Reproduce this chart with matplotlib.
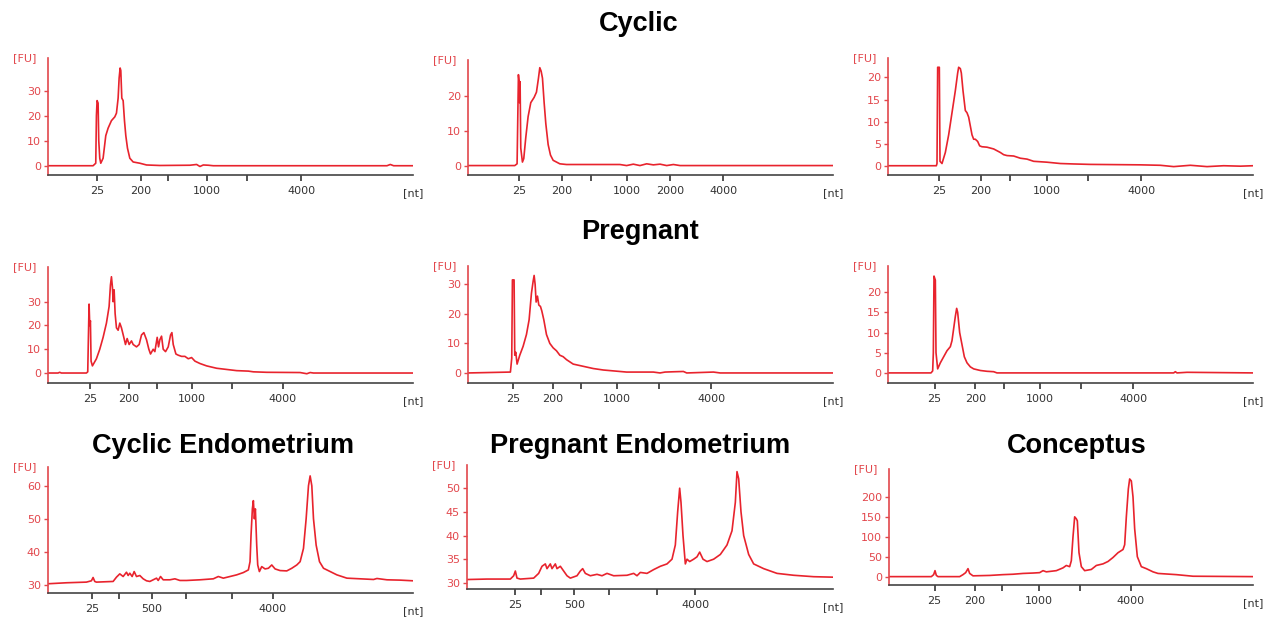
import numpy as np
import matplotlib.pyplot as plt

# electropherogram traces: (migration position, fluorescence [FU])
cyc1 = [(0, 0), (13.5, 0), (14.3, 1), (14.5, 20), (14.7, 26), (15.0, 25), (15.2, 10), (15.5, 3),
        (15.8, 1), (16.5, 3), (17.3, 12), (18.0, 15), (19.0, 18), (20.0, 19.5), (20.5, 21), (21.0, 27),
        (21.3, 35), (21.6, 39), (21.8, 38), (22.1, 27), (22.5, 26), (22.9, 18), (23.3, 12), (23.8, 7),
        (24.5, 3), (25.5, 1.5), (27.5, 1), (29.5, 0.3), (33.5, 0.1), (42.5, 0.2), (44.5, 0.5),
        (45.5, -0.3), (46.5, 0.3), (48.0, 0.2), (49.5, 0), (101.5, 0), (102.5, 0.5), (103.5, 0), (109.3, 0)]
cyc2 = [(0, 0), (14.0, 0), (14.7, 0.5), (15.1, 26), (15.3, 24), (15.4, 18), (15.6, 24), (15.8, 5),
        (16.3, 1), (16.7, 2), (17.3, 8), (18.0, 14), (18.8, 18), (19.8, 19.5), (20.5, 21), (21.1, 25),
        (21.5, 28), (21.9, 27), (22.3, 25), (22.8, 18), (23.3, 12), (24.0, 6), (24.7, 3), (25.5, 1.5),
        (27.5, 0.5), (29.5, 0.3), (45.5, 0.3), (47.5, 0), (49.5, 0.4), (51.5, 0), (53.5, 0.5),
        (55.5, 0.2), (57.5, 0.4), (59.5, 0), (61.5, 0.3), (63.5, 0), (109.3, 0)]
cyc3 = [(0, 0), (14.5, 0), (14.7, 0.5), (14.9, 22.3), (15.4, 22.3), (15.6, 1), (16.2, 0.5), (17.2, 3),
        (18.2, 7), (19.2, 12), (20.2, 17), (20.9, 21), (21.2, 22.3), (21.7, 22), (22.0, 21), (22.5, 17),
        (23.2, 12.5), (23.7, 12), (24.2, 11), (25.2, 7), (25.7, 6), (26.2, 6), (26.9, 5.5), (27.5, 4.5),
        (28.2, 4.3), (29.7, 4.2), (31.7, 3.8), (33.7, 3), (34.7, 2.5), (35.7, 2.3), (37.7, 2.2),
        (39.7, 1.7), (41.7, 1.5), (43.7, 1), (47.7, 0.8), (51.7, 0.5), (55.7, 0.4), (60.7, 0.3),
        (75.7, 0.2), (81.7, 0.1), (85.7, -0.2), (90.7, 0.1), (95.7, -0.2), (100.7, 0), (105.7, -0.1), (109.5, 0)]

preg1 = [(0, 0), (3.0, 0), (3.5, 0.3), (4.0, 0), (11.5, 0), (11.9, 0.5), (12.1, 15), (12.3, 29),
         (12.5, 20), (12.7, 22), (12.9, 5), (13.3, 3), (14.5, 6), (15.5, 10), (16.5, 15), (17.5, 21),
         (18.3, 28), (18.7, 37), (19.0, 40.5), (19.3, 36), (19.5, 30), (19.8, 35), (20.1, 25), (20.5, 19),
         (21.0, 18), (21.5, 21), (22.0, 19), (22.7, 15), (23.2, 12), (23.7, 14.5), (24.3, 12), (25.0, 13.5),
         (25.5, 12), (26.5, 11), (27.3, 12), (28.0, 16), (28.7, 17), (29.5, 14), (30.2, 10), (30.7, 8),
         (31.5, 10), (32.0, 9), (32.7, 15), (33.1, 11), (33.5, 14), (34.0, 15.5), (34.5, 10), (35.2, 9),
         (36.0, 11), (36.7, 16), (37.1, 17), (37.5, 12), (38.3, 8), (39.0, 7.5), (40.0, 7), (41.0, 7),
         (42.0, 6), (43.0, 6.5), (44.0, 5), (45.5, 4), (47.5, 3), (50.5, 2), (53.5, 1.5), (56.5, 1),
         (60.0, 0.8), (61.5, 0.5), (65.5, 0.3), (75.5, 0.2), (77.5, -0.3), (78.5, 0.2), (79.5, 0),
         (109.3, 0)]
preg2 = [(0, 0), (12.7, 0.3), (13.1, 5), (13.3, 31.5), (13.8, 31.5), (14.0, 6), (14.3, 7), (14.7, 3),
         (15.5, 6), (16.5, 9), (17.5, 13), (18.3, 18), (19.0, 27), (19.5, 31), (19.8, 33), (20.1, 30),
         (20.4, 24), (20.8, 26), (21.2, 23), (21.7, 22.5), (22.1, 21), (22.7, 18), (23.5, 13), (24.5, 10),
         (25.5, 8.5), (26.5, 7.5), (27.5, 6), (28.5, 5.5), (29.5, 4.5), (31.5, 3), (33.5, 2.5), (35.5, 2),
         (37.5, 1.5), (40.5, 1), (44.5, 0.6), (47.5, 0.3), (55.5, 0.3), (57.5, 0), (59.0, 0.3),
         (61.5, 0.4), (64.5, 0.5), (65.5, 0), (73.5, 0.3), (75.5, 0), (109.3, 0)]
preg3 = [(0, 0), (12.9, 0), (13.4, 0.5), (13.6, 5), (13.8, 24), (14.2, 23), (14.4, 5), (14.9, 1),
         (15.7, 2.5), (16.7, 4), (17.7, 5.5), (18.7, 6.5), (19.2, 8), (19.7, 11), (20.2, 14), (20.6, 16),
         (20.9, 15), (21.5, 10), (22.2, 7), (22.9, 4), (23.7, 2.5), (24.7, 1.5), (25.7, 1), (27.7, 0.6),
         (29.7, 0.4), (31.7, 0.3), (32.7, 0), (85.7, 0), (86.2, 0.3), (86.7, 0), (89.7, 0.15), (109.5, 0)]

cyc_endo = [(0, 30.3), (5.5, 30.6), (11.5, 30.8), (13.0, 31.2), (13.5, 32.2), (14.0, 31), (14.5, 30.8),
            (19.5, 31), (20.5, 32.3), (21.5, 33.3), (22.5, 32.5), (23.5, 33.8), (24.0, 32.8), (24.5, 33.5),
            (25.2, 32.5), (25.8, 34), (26.5, 32.5), (27.5, 32.8), (28.5, 31.8), (29.5, 31.2), (30.5, 31),
            (31.5, 31.5), (32.5, 32), (33.0, 31.3), (33.7, 32.5), (34.5, 31.5), (36.5, 31.5), (38.0, 31.8),
            (39.5, 31.3), (41.5, 31.3), (45.5, 31.5), (49.5, 31.8), (51.0, 32.5), (52.5, 32), (54.5, 32.5),
            (56.5, 33), (58.5, 33.7), (60.0, 34.5), (60.5, 37), (60.8, 45), (61.2, 53), (61.5, 55.5),
            (61.8, 50), (62.1, 53), (62.5, 42), (62.8, 36), (63.3, 34), (64.0, 35.5), (65.0, 34.8),
            (66.0, 35), (67.0, 36), (68.0, 34.8), (69.5, 34.3), (71.5, 34.2), (73.0, 35), (74.5, 36),
            (75.5, 37), (76.5, 41), (77.3, 50), (78.0, 60), (78.5, 63), (79.0, 60), (79.5, 50), (80.3, 42),
            (81.3, 37), (82.5, 35), (84.5, 34), (86.5, 33), (89.5, 32), (93.5, 31.8), (97.5, 31.6),
            (98.5, 31.9), (101.5, 31.5), (105.5, 31.4), (109.3, 31.2)]
preg_endo = [(0, 30.7), (6.0, 30.8), (13.0, 30.8), (14.0, 31.5), (14.5, 32.5), (15.0, 31), (16.0, 30.8),
             (20.0, 31), (21.5, 32), (22.5, 33.5), (23.5, 34), (24.0, 33), (25.0, 34), (25.5, 33),
             (26.5, 34), (27.0, 33), (28.0, 33.5), (29.0, 32.5), (30.0, 31.5), (31.0, 31), (33.0, 31.5),
             (34.0, 32.5), (34.7, 33), (35.5, 32), (37.0, 31.5), (39.0, 31.8), (40.5, 31.5), (42.0, 32),
             (44.0, 31.5), (48.0, 31.6), (50.0, 32), (51.0, 31.5), (52.0, 32.2), (54.0, 32), (56.0, 32.8),
             (58.0, 33.5), (60.0, 34), (61.5, 35), (62.5, 38), (63.2, 45), (63.8, 50), (64.2, 47),
             (64.8, 40), (65.5, 34), (66.0, 35), (66.8, 34.5), (68.0, 35), (69.0, 35.5), (69.8, 36.5),
             (70.8, 35), (72.0, 34.5), (74.0, 35), (76.0, 36), (78.0, 38), (79.5, 41), (80.5, 47),
             (81.0, 53.5), (81.5, 52), (82.2, 45), (83.0, 40), (84.5, 36), (86.0, 34), (89.0, 33),
             (93.0, 32), (98.0, 31.6), (104.0, 31.3), (109.8, 31.2)]
conceptus = [(0, 0), (12.7, 0), (13.4, 5), (13.8, 15), (14.2, 3), (14.7, 0), (21.2, 0), (22.2, 5),
             (23.0, 10), (23.7, 20), (24.2, 8), (25.2, 2), (30.2, 3), (34.2, 5), (37.2, 6), (40.2, 8),
             (43.2, 9), (45.2, 10), (46.2, 15), (47.2, 12), (50.2, 15), (52.2, 22), (53.2, 28), (54.2, 25),
             (54.7, 40), (55.2, 100), (55.7, 150), (56.2, 145), (56.5, 140), (57.0, 60), (57.7, 25),
             (58.7, 15), (60.7, 18), (62.2, 28), (64.2, 32), (65.7, 38), (67.2, 48), (68.7, 60), (70.2, 68),
             (70.7, 80), (71.2, 150), (71.8, 220), (72.2, 245), (72.7, 240), (73.2, 200), (73.7, 120),
             (74.5, 50), (75.7, 25), (77.2, 20), (79.2, 12), (80.7, 8), (86.2, 5), (91.2, 1), (109.2, 0)]

# ladder ticks (25, 200, 500, 1000, 2000, 4000 nt) - position on the run for each panel
lbl_a = ['25', '200', '', '1000', '', '4000']
lbl_b = ['25', '200', '', '1000', '2000', '4000']
lbl_c = ['25', '', '500', '', '', '4000']
ticks_cyc1 = [14.7, 27.7, 36.0, 47.5, 59.7, 75.8]
ticks_cyc2 = [15.3, 28.0, 36.8, 47.7, 60.5, 76.5]
ticks_cyc3 = [15.4, 27.9, 36.5, 47.7, 60.0, 76.0]
ticks_preg1 = [12.5, 24.2, 32.7, 43.2, 55.2, 70.3]
ticks_preg2 = [13.5, 25.5, 33.9, 44.7, 57.1, 72.8]
ticks_preg3 = [14.0, 26.2, 34.8, 45.5, 57.9, 73.5]
ticks_cend = [13.3, 21.3, 31.0, 41.2, 55.2, 67.3]
ticks_pend = [14.5, 22.2, 32.2, 42.7, 57.0, 68.5]
ticks_conc = [13.7, 25.7, 33.9, 44.9, 57.4, 72.5]

RED = '#e8232d'
AXRED = '#e2474c'

W, H = 1274, 618


def panel(px, data, xt, xl, xmax, ylim, yt):
    # px = left, top, right, bottom in pixels
    l, t, r, b = px
    ax = fig.add_axes([l / W, 1 - b / H, (r - l) / W, (b - t) / H])
    d = np.array(data)
    ax.plot(d[:, 0], d[:, 1], color=RED, lw=1.2)
    ax.set_xlim(0, xmax)
    ax.set_ylim(*ylim)
    ax.set_yticks(yt)
    ax.set_xticks(xt)
    ax.set_xticklabels(xl)
    for s in ['top', 'right']:
        ax.spines[s].set_visible(False)
    ax.spines['left'].set_color(AXRED)
    ax.spines['left'].set_linewidth(1.2)
    ax.spines['bottom'].set_color('#444444')
    ax.spines['bottom'].set_linewidth(1.2)
    ax.tick_params(axis='y', colors=AXRED, labelsize=8, length=3, width=1, pad=2)
    ax.tick_params(axis='x', colors='#333333', labelsize=8, length=4, width=1.2, pad=4)
    ax.annotate('[FU]', xy=(0, 1), xycoords='axes fraction', xytext=(-12, 0),
                textcoords='offset pixels', ha='right', va='center', fontsize=8, color=AXRED)
    ax.annotate('[nt]', xy=(1, 0), xycoords='axes fraction', xytext=(0, -18),
                textcoords='offset pixels', ha='center', va='center', fontsize=8, color='#333333')
    return ax


fig = plt.figure(figsize=(12.74, 6.18), dpi=100)

panel((48, 58, 413, 175), cyc1, ticks_cyc1, lbl_a, 109.3, (-3.7, 43), [0, 10, 20, 30])
panel((468, 60, 833, 175), cyc2, ticks_cyc2, lbl_b, 109.3, (-2.7, 30.2), [0, 10, 20])
panel((888, 58, 1253, 175), cyc3, ticks_cyc3, lbl_a, 109.5, (-2.1, 24.4), [0, 5, 10, 15, 20])

panel((48, 267, 413, 383), preg1, ticks_preg1, lbl_a, 109.3, (-4.2, 44.6), [0, 10, 20, 30])
panel((468, 266, 833, 383), preg2, ticks_preg2, lbl_a, 109.3, (-3.4, 36.2), [0, 10, 20, 30])
panel((888, 266, 1253, 383), preg3, ticks_preg3, lbl_a, 109.5, (-2.5, 26.5), [0, 5, 10, 15, 20])

panel((48, 467, 413, 593), cyc_endo, ticks_cend, lbl_c, 109.3, (27.5, 65.7), [30, 40, 50, 60])
panel((467, 465, 833, 589), preg_endo, ticks_pend, lbl_c, 109.8, (28.7, 54.9), [30, 35, 40, 45, 50])
panel((889, 469, 1253, 585), conceptus, ticks_conc, lbl_a, 109.2, (-21, 270), [0, 50, 100, 150, 200])

tkw = dict(ha='center', va='center', fontsize=19.5, fontweight='bold', family='Liberation Sans')
fig.text(639 / W, 1 - 24 / H, 'Cyclic', **tkw)
fig.text(640 / W, 1 - 232 / H, 'Pregnant', **tkw)
fig.text(223 / W, 1 - 446 / H, 'Cyclic Endometrium', **tkw)
fig.text(640 / W, 1 - 446 / H, 'Pregnant Endometrium', **tkw)
fig.text(1077 / W, 1 - 446 / H, 'Conceptus', **tkw)

fig.savefig('out.png', dpi=100)
